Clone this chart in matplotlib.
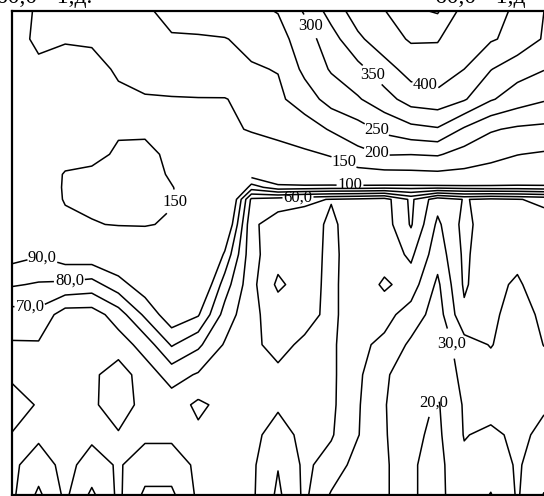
import numpy as np
import matplotlib
matplotlib.use('Agg')
import matplotlib.pyplot as plt

plt.rcParams['font.family'] = ['Liberation Serif', 'DejaVu Serif']

# grid of the section: station number along the profile, depth of each row
stations = list(range(21))
depth = [0, 28, 58, 88, 118, 143, 163, 176, 188, 213, 243, 273, 303, 333, 363, 393, 423, 453, 483]

# values, one row per depth
values = [
    [140, 153, 160, 165, 175, 195, 210, 220, 232, 240, 252, 305, 370, 425, 448, 490, 505, 430, 410, 395, 350],
    [130, 160, 152, 152, 162, 185, 197, 196, 198, 212, 232, 275, 330, 390, 430, 455, 452, 430, 405, 385, 345],
    [128, 140, 140, 145, 152, 170, 180, 185, 190, 196, 202, 262, 305, 335, 380, 420, 435, 400, 352, 320, 302],
    [125, 128, 132, 138, 147, 146, 147, 148, 148, 165, 190, 225, 270, 295, 330, 372, 380, 355, 305, 275, 255],
    [122, 125, 130, 138, 146, 146, 148, 147, 145, 152, 158, 175, 205, 230, 262, 285, 295, 243, 205, 192, 188],
    [120, 125, 135, 140, 155, 156, 145, 140, 135, 135, 140, 143, 153, 185, 203, 201, 205, 180, 165, 151, 145],
    [118, 125, 153, 157, 158, 160, 147, 140, 130, 105, 115, 125, 128, 132, 135, 137, 140, 138, 130, 125, 122],
    [118, 125, 154, 158, 160, 160, 151, 138, 125, 85, 96, 95, 94, 94, 93, 93, 93, 94, 95, 95, 96],
    [118, 124, 153, 157, 158, 158, 153, 135, 115, 58, 55, 52, 49.5, 48, 46, 62, 44, 50.5, 48, 49.5, 52],
    [112, 105, 140, 148, 152, 153, 145, 130, 105, 52, 45, 45, 52, 44, 45, 61, 38, 53, 44, 44, 46],
    [94, 91, 96, 97, 100, 105, 130, 120, 88, 53, 44, 44, 53, 43, 44, 52, 34, 52, 43, 42, 45],
    [81, 79, 78, 76, 86, 96, 110, 105, 75, 53, 38, 45, 53, 42, 52, 45, 28, 51.5, 42, 39, 44],
    [66, 67, 55, 55, 65, 82, 97, 91, 66, 52, 46, 46, 53, 42, 43, 36, 25, 48, 42, 36, 42],
    [59, 59, 54, 54, 55, 64, 81, 72, 59, 52, 47, 52, 52, 42, 38, 28, 23, 36, 40.5, 35, 40.2],
    [52, 53, 54, 52, 45, 55, 64, 59, 55, 51, 52, 52, 52, 42, 31, 26, 22, 33, 36, 35, 37],
    [45, 51, 53, 52, 44, 54, 55, 48, 53, 52, 51, 52, 52, 41, 30.5, 24, 19, 31, 34, 34, 31],
    [50.5, 52, 53, 52, 51, 52, 52, 52, 52, 52, 47, 52, 51, 40.5, 31, 22, 18, 30.5, 28, 32, 28],
    [52, 45, 53, 46, 51, 45, 45, 52, 53, 52, 40.5, 52, 46, 36, 32, 21, 17, 28, 25, 31, 25],
    [52, 38, 52, 38, 52, 38, 38, 52, 54, 52, 38, 52, 39, 35, 32, 21, 17, 27, 19.5, 31, 19.5],
]

low_levels = [20, 30, 40, 50, 60, 70, 80, 90]
high_levels = [150, 200, 250, 300, 350, 400, 450, 500]
first_col_100 = 9   # the 100 isoline only exists on the right part


def at(px, py):
    # picture position -> (station, depth)
    return ((px - 12) / 26.6, py - 12)


def comma(v):
    return f'{v:.1f}'.replace('.', ',')


X, Y = np.meshgrid(stations, depth)
Z = np.array(values, dtype=float)

fig = plt.figure(figsize=(5.44, 4.96), dpi=100)
ax = fig.add_axes([12 / 544, 1 / 496, 532 / 544, 484 / 496])

lw = 1.1
cs_lo = ax.contour(X, Y, Z, levels=low_levels, colors='k', linewidths=lw)
cs_hi = ax.contour(X, Y, Z, levels=high_levels, colors='k', linewidths=lw)
c = first_col_100
cs_100 = ax.contour(X[:, c:], Y[:, c:], Z[:, c:], levels=[100], colors='k', linewidths=lw)

labels = []
labels += ax.clabel(cs_hi, fmt='%d', fontsize=12, inline=True, inline_spacing=1,
                    manual=[at(305, 30), at(373, 75), at(425, 88), at(377, 130),
                            at(378, 150), at(343, 165), at(168, 200)])
labels += ax.clabel(cs_100, fmt='%d', fontsize=12, inline=True, inline_spacing=1,
                    manual=[at(350, 187)])
labels += ax.clabel(cs_lo, fmt=comma, fontsize=12, inline=True, inline_spacing=1,
                    manual=[at(40, 267), at(70, 288), at(30, 305), at(298, 198),
                            at(440, 347), at(433, 402)])
for t in labels:
    t.set_rotation(0)

ax.set_xlim(0, 20)
ax.set_ylim(483, 0)
ax.set_xticks([])
ax.set_yticks([])
ax.spines['right'].set_visible(False)
for s in ['left', 'top', 'bottom']:
    ax.spines[s].set_linewidth(1.6)

# captions of the two panels, cut by the top of the scan
fig.text(-0.008, 0.994, '60,0 - 1,д.', fontsize=17, va='baseline')
fig.text(0.80, 0.994, '60,0 - 1,д', fontsize=17, va='baseline')

fig.savefig('out.png', dpi=100)
